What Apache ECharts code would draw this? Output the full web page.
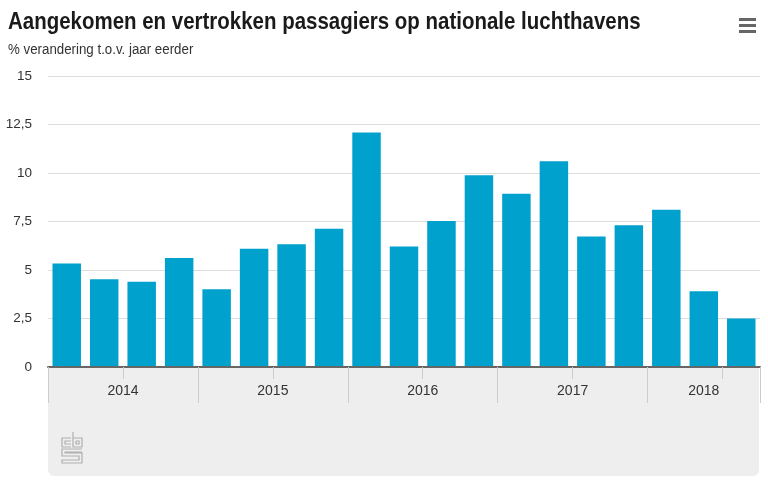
<!DOCTYPE html>
<html>
<head>
<meta charset="utf-8">
<script src="https://cdn.jsdelivr.net/npm/echarts@6/dist/echarts.min.js"></script>
<style>html,body{margin:0;padding:0;background:#fff}#c{width:768px;height:487px}</style>
</head>
<body>
<div id="c"></div>
<script>
const years = ['2014', '2015', '2016', '2017', '2018'];
const quartersPerYear = [4, 4, 4, 4, 3];
const values = [5.34, 4.52, 4.40, 5.62, 4.01, 6.09, 6.33, 7.12, 12.09, 6.21, 7.53, 9.89, 8.93, 10.6, 6.73, 7.31, 8.1, 3.9, 2.5];
const yTicks = [0, 2.5, 5, 7.5, 10, 12.5, 15];
const titleText = 'Aangekomen en vertrokken passagiers op nationale luchthavens';
const subtitleText = '% verandering t.o.v. jaar eerder';

const categories = [];
const boundaries = [0];
const yearCenters = [];
let pos = 0;
years.forEach((y, i) => {
  for (let q = 1; q <= quartersPerYear[i]; q++) categories.push(y + ' K' + q);
  yearCenters.push(pos + quartersPerYear[i] / 2);
  pos += quartersPerYear[i];
  boundaries.push(pos);
});

const FONT = '"Liberation Sans", Arial, sans-serif';
const chart = echarts.init(document.getElementById('c'), null, {renderer: 'canvas'});

const logo = [
  [[9, 6], [0, 6], [0, 15], [9, 15]],
  [[9, 9], [3, 9], [3, 12], [9, 12]],
  [[11, 0], [11, 15], [20, 15], [20, 6], [11, 6]],
  [[14, 9], [17, 9], [17, 12], [14, 12], [14, 9]],
  [[20, 17], [0, 17], [0, 24], [17, 24], [17, 28], [0, 28], [0, 31], [20, 31], [20, 21], [3, 21], [3, 20], [20, 20]]
];

chart.setOption({
  animation: false,
  backgroundColor: '#fff',
  graphic: [
    {type: 'text', x: 8, y: 10, scaleX: 0.853, style: {
      text: titleText, fontFamily: FONT, fontWeight: 'bold', fontSize: 24, fill: '#1a1a1a',
      textVerticalAlign: 'top', verticalAlign: 'top'
    }},
    {type: 'text', x: 8, y: 43, scaleX: 0.95, style: {
      text: subtitleText, fontFamily: FONT, fontSize: 14, fill: '#333',
      textVerticalAlign: 'top', verticalAlign: 'top'
    }},
    {type: 'rect', z: -10, shape: {x: 48, y: 367, width: 711, height: 109, r: [0, 0, 6, 6]}, style: {fill: '#eeeeee'}},
    {type: 'group', x: 62, y: 432, z: 10, children: logo.map(p => ({
      type: 'polyline', shape: {points: p}, style: {stroke: '#b0b0b0', lineWidth: 1.2, fill: null}
    }))},
    {type: 'rect', shape: {x: 739, y: 18, width: 17, height: 3}, style: {fill: '#666'}},
    {type: 'rect', shape: {x: 739, y: 24, width: 17, height: 3}, style: {fill: '#666'}},
    {type: 'rect', shape: {x: 739, y: 30, width: 17, height: 3}, style: {fill: '#666'}}
  ],
  grid: {left: 48, right: 8, top: 76, bottom: 120, containLabel: false},
  xAxis: [{
    type: 'category',
    data: categories,
    axisLine: {show: true, lineStyle: {color: '#666', width: 2}},
    axisTick: {show: true, length: 12, lineStyle: {color: '#cccccc'}},
    axisLabel: {show: false},
    z: 5
  }, {
    type: 'value',
    min: 0, max: categories.length,
    position: 'bottom',
    axisLine: {show: false},
    splitLine: {show: false},
    axisTick: {show: true, length: 36, customValues: boundaries, lineStyle: {color: '#cccccc'}},
    axisLabel: {
      show: true,
      customValues: yearCenters,
      margin: 17,
      fontFamily: FONT, fontSize: 14, color: '#333',
      formatter: v => { const i = yearCenters.indexOf(v); return i >= 0 ? years[i] : ''; }
    }
  }],
  yAxis: {
    type: 'value',
    min: 0, max: 15, interval: 2.5,
    axisLine: {show: false},
    axisTick: {show: false},
    splitLine: {lineStyle: {color: '#dddddd'}},
    axisLabel: {
      margin: 16, fontFamily: FONT, fontSize: 13.5, color: '#333',
      formatter: v => yTicks.includes(v) ? String(v).replace('.', ',') : ''
    }
  },
  series: [{
    type: 'bar',
    data: values,
    barCategoryGap: '24%',
    itemStyle: {color: '#00a2cd'}
  }]
});
</script>
</body>
</html>
